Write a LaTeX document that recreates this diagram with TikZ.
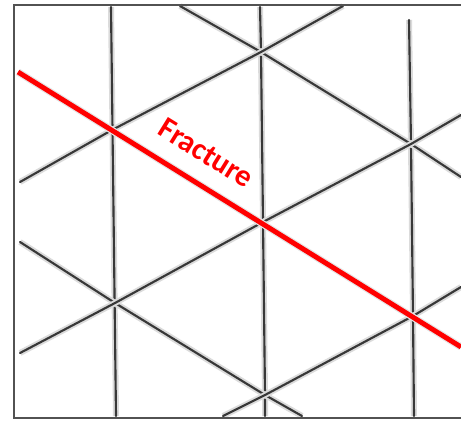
\documentclass[tikz,border=0pt]{standalone}
\usepackage{fontspec}
\newfontfamily\labelfont{Carlito}
\usepackage{tikz}
\usetikzlibrary{calc}

\begin{document}
\begin{tikzpicture}[x=0.75pt,y=-0.75pt,
			frame/.style={draw=black!68, line width=2.2pt},
			lattice/.style={draw=black!78, line width=1.6pt, line cap=round,
				preaction={draw=black!14, line width=4.5pt}},
			fracture/.style={draw=red, line width=3.7pt,
				preaction={draw=black!10, line width=5.5pt}},
			crack/.style={text=red, font=\labelfont\bfseries\fontsize{23}{23}\selectfont},
			]
			% 画布
			\useasboundingbox (0,0) rectangle (461,421);
			
			% 三角网格的结点
			\coordinate (A) at (112,130);
			\coordinate (B) at (261,52);
			\coordinate (C) at (411,144);
			\coordinate (D) at (115,303);
			\coordinate (E) at (263,222);
			\coordinate (F) at (265,395);
			\coordinate (G) at (413,316);
			
			% 竖线
			\draw[lattice] (111,7) -- (116,416);
			\draw[lattice] (260,7) -- (B) -- (E) -- (F) -- (265,416);
			\draw[lattice] (409,20) -- (C) -- (G) -- (414,416);
			
			% 右下斜线
			\coordinate (L1s) at (180,6);   \coordinate (L1e) at (461,177);
			\coordinate (L3s) at (20,242);  \coordinate (L3e) at (302,416);
			\draw[lattice] (L1s) -- (B) -- (C) -- (L1e);
			\draw[lattice] (L3s) -- (D) -- (F) -- (L3e);
			
			% 右上斜线
			\coordinate (U1s) at (20,182);  \coordinate (U1e) at (343,6);
			\coordinate (U2s) at (20,353);  \coordinate (U2e) at (461,115);
			\coordinate (U3s) at (223,416); \coordinate (U3e) at (461,287);
			\draw[lattice] (U1s) -- (A) -- (B) -- (U1e);
			\draw[lattice] (U2s) -- (D) -- (E) -- (C) -- (U2e);
			\draw[lattice] (U3s) -- (F) -- (G) -- (U3e);
			
			% 裂缝
			\coordinate (Rs) at (18,72);
			\coordinate (Re) at (461,347);
			\draw[fracture] (Rs) -- (Re);
			\node[crack, rotate=-31.8] (lab) at (206,153) {Fracture};
			
			% 边框（右侧无边）
			\draw[frame] (461,5) -- (14,5) -- (14,418) -- (461,418);
		\end{tikzpicture}
\end{document}
